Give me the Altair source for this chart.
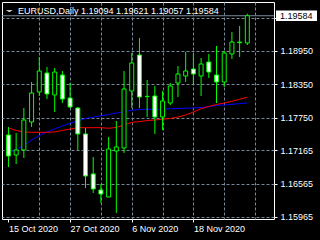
import altair as alt
import pandas as pd

symbol = "EURUSD,Daily"

dates = ["2020-10-15", "2020-10-16", "2020-10-19", "2020-10-20", "2020-10-21", "2020-10-22",
         "2020-10-23", "2020-10-26", "2020-10-27", "2020-10-28", "2020-10-29", "2020-10-30",
         "2020-11-02", "2020-11-03", "2020-11-04", "2020-11-05", "2020-11-06", "2020-11-09",
         "2020-11-10", "2020-11-11", "2020-11-12", "2020-11-13", "2020-11-16", "2020-11-17",
         "2020-11-18", "2020-11-19", "2020-11-20", "2020-11-23", "2020-11-24", "2020-11-25",
         "2020-11-26", "2020-11-27"]

opens = [1.17440, 1.17080, 1.17170, 1.17673, 1.18213, 1.18554, 1.18159, 1.18518, 1.18105, 1.17925,
         1.17458, 1.16739, 1.16451, 1.16325, 1.17152, 1.17206, 1.18231, 1.18878, 1.18135, 1.18141,
         1.17763, 1.18015, 1.18375, 1.18501, 1.18626, 1.18501, 1.18752, 1.18518, 1.18393, 1.18896,
         1.19110, 1.19094]
highs = [1.17584, 1.17476, 1.17925, 1.18393, 1.18842, 1.18662, 1.18644, 1.18590, 1.18375, 1.17943,
         1.17566, 1.17044, 1.16559, 1.17404, 1.17691, 1.18590, 1.18914, 1.19184, 1.18429, 1.18321,
         1.18231, 1.18375, 1.18680, 1.18932, 1.18896, 1.18824, 1.18896, 1.19040, 1.18950, 1.19292,
         1.19400, 1.19621]
lows = [1.16864, 1.16918, 1.17026, 1.17584, 1.18141, 1.18087, 1.17853, 1.18015, 1.17925, 1.17170,
        1.16487, 1.16397, 1.16217, 1.16320, 1.16037, 1.17116, 1.17925, 1.17925, 1.17763, 1.17458,
        1.17530, 1.17979, 1.18123, 1.18393, 1.18339, 1.18141, 1.18465, 1.18015, 1.18303, 1.18806,
        1.18842, 1.19057]
closes = [1.17062, 1.17170, 1.17709, 1.18195, 1.18590, 1.18177, 1.18572, 1.18087, 1.17943, 1.17458,
          1.16703, 1.16469, 1.16379, 1.17188, 1.17224, 1.18267, 1.18734, 1.18123, 1.18130, 1.17763,
          1.18051, 1.18321, 1.18537, 1.18590, 1.18537, 1.18716, 1.18572, 1.18393, 1.18914, 1.19112,
          1.19100, 1.19584]
ma_blue = [1.17129, 1.17179, 1.17251, 1.17350, 1.17431, 1.17494, 1.17548, 1.17602, 1.17650, 1.17691,
           1.17736, 1.17763, 1.17785, 1.17808, 1.17835, 1.17859, 1.17884, 1.17898, 1.17902, 1.17902,
           1.17902, 1.17911, 1.17916, 1.17920, 1.17925, 1.17934, 1.17947, 1.17970, 1.17979, 1.17992,
           1.18003, 1.18015]
ma_red = [1.17566, 1.17521, 1.17494, 1.17488, 1.17488, 1.17488, 1.17494, 1.17521, 1.17545, 1.17571,
          1.17571, 1.17571, 1.17571, 1.17560, 1.17575, 1.17620, 1.17668, 1.17679, 1.17700, 1.17709,
          1.17724, 1.17736, 1.17763, 1.17799, 1.17853, 1.17913, 1.17952, 1.17988, 1.18015, 1.18046,
          1.18082, 1.18118]

price_ticks = [1.19550, 1.18950, 1.18350, 1.17750, 1.17165, 1.16565, 1.15965]
label_bars = [0, 8, 16, 24]

df = pd.DataFrame({"date": pd.to_datetime(dates), "open": opens, "high": highs,
                   "low": lows, "close": closes, "blue": ma_blue, "red": ma_red})
df["k"] = range(len(df))
df["dir"] = ["up" if c > o else "down" for o, c in zip(df["open"], df["close"])]
df["label"] = [d.strftime("%d %b %Y").lstrip("0") for d in df["date"]]

last = df.tail(1).copy()
last["title"] = "{}  {:.5f} {:.5f} {:.5f} {:.5f}".format(
    symbol, last["open"].iloc[0], last["high"].iloc[0], last["low"].iloc[0], last["close"].iloc[0])
last["price"] = ["{:.5f}".format(v) for v in last["close"]]

expr = "''"
for b in reversed(label_bars):
    expr = "datum.value == {} ? '{}' : ({})".format(b, df["label"].iloc[b], expr)

FONT = "Liberation Sans"
GRID = "#778899"
GREEN = "#00ff00"

xscale = alt.Scale(domain=[-0.1875, 33.8125], nice=False, zero=False)
yscale = alt.Scale(domain=[1.15929, 1.19831], nice=False, zero=False)

xaxis = alt.Axis(values=list(range(0, 33, 4)), grid=True,
                 gridColor={"condition": {"test": "datum.value === 0", "value": "transparent"}, "value": GRID},
                 gridDash=[3, 2], gridWidth=1, domain=False,
                 tickColor={"condition": {"test": "datum.value % 8 === 0 && datum.value <= 24", "value": "white"},
                            "value": "transparent"},
                 tickSize=3, labelExpr=expr, labelColor="white", labelFont=FONT, labelFontSize=9,
                 labelAlign="left", labelBaseline="top", labelPadding=2, labelOverlap=False,
                 labelFlush=False, title=None)
yaxis = alt.Axis(orient="right", values=price_ticks, grid=True, gridColor=GRID, gridDash=[3, 2],
                 gridWidth=1, domain=False, tickColor="white", tickSize=3, labelPadding=3,
                 labelExpr="datum.value > 1.195 ? '' : format(datum.value, '.5f')",
                 labelColor="white", labelFont=FONT, labelFontSize=9, labelBaseline="middle",
                 labelOverlap=False, labelFlush=False, title=None)


def X(field):
    return alt.X(field, type="quantitative", scale=xscale, axis=xaxis)


def Y(field):
    return alt.Y(field, type="quantitative", scale=yscale, axis=yaxis)


base = alt.Chart(df)

blue_line = base.mark_line(color="#0000ff", strokeWidth=1).encode(x=X("k"), y=Y("blue"))
red_line = base.mark_line(color="#ff0000", strokeWidth=1).encode(x=X("k"), y=Y("red"))

bid_line = alt.Chart(last).mark_rule(color=GRID, strokeWidth=1).encode(y=Y("close"))

wicks = base.mark_rule(color=GREEN, strokeWidth=1).encode(x=X("k"), y=Y("low"), y2="high:Q")

bodies = base.mark_bar(size=4, stroke=GREEN, strokeWidth=1).encode(
    x=X("k"), y=Y("open"), y2="close:Q",
    fill=alt.Fill("dir:N", scale=alt.Scale(domain=["up", "down"], range=["black", "white"]), legend=None),
)

price_box = alt.Chart(last).mark_point(
    shape="M-1,-0.26L1,-0.26L1,0.26L-1,0.26Z", size=1681, filled=True,
    fill="white", opacity=1, strokeWidth=0,
).encode(x=alt.value(294.5), y=Y("close"))

price_text = alt.Chart(last).mark_text(
    align="left", baseline="middle", font=FONT, fontSize=9, color="black",
).encode(x=alt.value(278), y=Y("close"), text="price:N")

title_text = alt.Chart(last).mark_text(
    align="left", baseline="alphabetic", font=FONT, fontSize=9, color="white",
).encode(x=alt.value(16), y=alt.value(12), text="title:N")

triangle = alt.Chart(last).mark_point(
    shape="M-1,-0.25L1,-0.25L0,0.25Z", size=49, filled=True, fill="white",
    opacity=1, strokeWidth=0,
).encode(x=alt.value(7.3), y=alt.value(9))

chart = alt.layer(
    blue_line, red_line, bid_line, wicks, bodies,
    price_box, price_text, title_text, triangle,
).properties(
    width=272, height=217,
    padding={"left": 2, "top": 2, "right": 46, "bottom": 21},
    autosize=alt.AutoSizeParams(type="none"),
    background="black",
).configure_view(
    fill="black", stroke="white", strokeWidth=1,
)

chart.save("out.html", embed_options={"renderer": "svg", "actions": False})
